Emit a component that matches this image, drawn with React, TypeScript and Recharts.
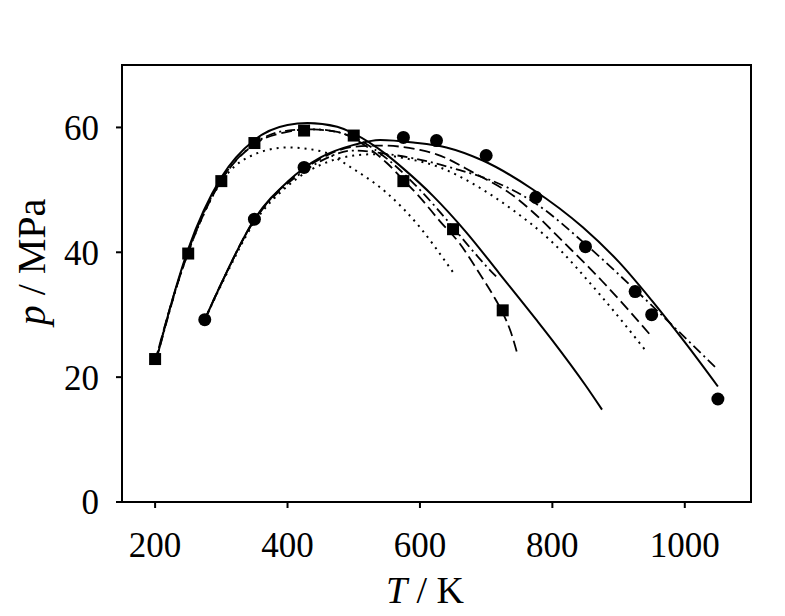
import React from 'react';
import { ComposedChart, Line, Scatter, XAxis, YAxis, ReferenceArea, Label } from 'recharts';

// experimental points
const squarePts: number[][] = [
  [200, 22.9], [250, 39.8], [300, 51.4], [350, 57.5], [425, 59.5],
  [500, 58.7], [575, 51.4], [650, 43.7], [725, 30.7],
];
const circlePts: number[][] = [
  [275, 29.2], [350, 45.3], [425, 53.6], [575, 58.4], [625, 57.9], [700, 55.5],
  [775, 48.8], [850, 40.9], [925, 33.7], [950, 30.0], [1050, 16.5],
];

// model curves, left family
const solidA: number[][] = [
  [200, 22], [225, 32], [250, 40.5], [300, 52], [350, 58], [400, 60.4], [430, 60.7],
  [475, 60.1], [500, 59], [550, 55.6], [575, 53.4], [620, 49], [670, 43.2], [720, 36.6],
  [775, 29.3], [800, 25.9], [850, 18.7], [875, 14.8],
];
const dashedA: number[][] = [
  [200, 22.5], [225, 32], [250, 40], [300, 51.5], [350, 57.3], [400, 59.3], [430, 59.7],
  [475, 59.3], [500, 58.2], [550, 54.3], [575, 51.6], [600, 48.8], [630, 45], [660, 41.4],
  [690, 36.6], [710, 33.2], [725, 30.3], [737, 27.3], [748, 23.4],
];
const dashDotA: number[][] = [
  [200, 22], [250, 40.2], [300, 51.6], [350, 57.4], [400, 59.5], [440, 59.7], [500, 58.4],
  [550, 55], [600, 50], [650, 44], [676, 40.7], [700, 37.8], [718, 35.8],
];
const dottedA: number[][] = [
  [200, 22.5], [250, 40], [300, 51.3], [340, 55.2], [400, 56.8], [450, 56.2], [500, 53.3],
  [550, 49.5], [600, 44], [640, 38.3], [650, 36.8],
];

// model curves, right family
const solidB: number[][] = [
  [275, 29.2], [300, 35], [350, 45.3], [400, 51.3], [425, 53.5], [450, 55.2], [500, 57.2],
  [540, 58], [590, 57.6], [640, 56.8], [695, 54.7], [770, 50.1], [846, 44], [900, 38.5],
  [950, 32.3], [1000, 25.6], [1050, 18.5],
];
const dashedB: number[][] = [
  [275, 29.2], [300, 35], [350, 45.2], [400, 51.2], [425, 53.3], [450, 55], [500, 56.9],
  [540, 57.1], [600, 56.4], [625, 55.7], [680, 52.8], [748, 48.5], [770, 46.5], [820, 41.3],
  [875, 35.4], [950, 26.5],
];
const dashDotB: number[][] = [
  [275, 29.2], [300, 35], [350, 45.1], [400, 51], [425, 53], [450, 54.6], [500, 56.3],
  [547, 55.8], [610, 54.6], [665, 53], [690, 52.2], [775, 47.8], [850, 41.3], [925, 34],
  [950, 31.5], [987, 27.7], [1019, 24.4], [1050, 21.2],
];
const dottedB: number[][] = [
  [275, 29.2], [300, 34.8], [350, 44.8], [400, 50.6], [425, 52.6], [450, 54], [500, 55.5],
  [530, 55.7], [575, 55.1], [630, 53.6], [686, 50.6], [740, 46.8], [796, 42], [872, 33.2],
  [942, 24.1],
];

const xTicks = [200, 400, 600, 800, 1000];
const yTicks = [0, 20, 40, 60];

const toPts = (arr: number[][]) => arr.map(([T, p]) => ({ T, p }));

const serif = '"Liberation Serif", "Times New Roman", serif';

const SquareShape = (props: any) => {
  const { cx, cy } = props;
  return <rect x={cx - 6} y={cy - 6} width={12} height={12} fill="#000" />;
};

const CircleShape = (props: any) => {
  const { cx, cy } = props;
  return <circle cx={cx} cy={cy} r={6.5} fill="#000" />;
};

const curves = [
  { key: 'solidA', data: solidA, dash: undefined, w: 2 },
  { key: 'dashedA', data: dashedA, dash: '11 5', w: 1.8 },
  { key: 'dashDotA', data: dashDotA, dash: '10 4 2 4', w: 1.8 },
  { key: 'dottedA', data: dottedA, dash: '2 5', w: 2 },
  { key: 'solidB', data: solidB, dash: undefined, w: 2 },
  { key: 'dashedB', data: dashedB, dash: '11 5', w: 1.8 },
  { key: 'dashDotB', data: dashDotB, dash: '10 4 2 4', w: 1.8 },
  { key: 'dottedB', data: dottedB, dash: '2 5', w: 2 },
];

const App: React.FC = () => {
  return (
    <div style={{ width: 769, height: 606, background: '#fff' }}>
      <ComposedChart width={769} height={606} margin={{ top: 57, right: 26, left: 0, bottom: 0 }}>
        <XAxis
          type="number"
          dataKey="T"
          domain={[150, 1100]}
          ticks={xTicks}
          allowDataOverflow
          height={112}
          stroke="#000"
          strokeWidth={2}
          tickSize={6}
          tickMargin={24}
          tick={{ fill: '#000', fontSize: 35, fontFamily: serif }}
        >
          <Label
            content={() => (
              <text x={417} y={595} textAnchor="middle" fontFamily={serif} fontSize={38} fill="#000">
                <tspan fontStyle="italic">T</tspan>
                {' / K'}
              </text>
            )}
          />
        </XAxis>
        <YAxis
          type="number"
          dataKey="p"
          domain={[0, 70]}
          ticks={yTicks}
          allowDataOverflow
          width={114}
          stroke="#000"
          strokeWidth={2}
          tickSize={6}
          tickMargin={17}
          tick={{ fill: '#000', fontSize: 35, fontFamily: serif }}
        >
          <Label
            content={() => (
              <text
                x={37}
                y={254}
                textAnchor="middle"
                transform="rotate(-90 37 254)"
                fontFamily={serif}
                fontSize={40}
                fill="#000"
              >
                <tspan fontStyle="italic">p</tspan>
                {' / MPa'}
              </text>
            )}
          />
        </YAxis>
        <ReferenceArea x1={150} x2={1100} y1={0} y2={70} fill="none" stroke="#000" strokeWidth={2} ifOverflow="visible" />
        {curves.map((c) => (
          <Line
            key={c.key}
            data={toPts(c.data)}
            dataKey="p"
            type="monotone"
            stroke="#000"
            strokeWidth={c.w}
            strokeDasharray={c.dash}
            dot={false}
            activeDot={false}
            isAnimationActive={false}
          />
        ))}
        <Scatter data={toPts(squarePts)} dataKey="p" shape={SquareShape} isAnimationActive={false} />
        <Scatter data={toPts(circlePts)} dataKey="p" shape={CircleShape} isAnimationActive={false} />
      </ComposedChart>
    </div>
  );
};

export default App;
